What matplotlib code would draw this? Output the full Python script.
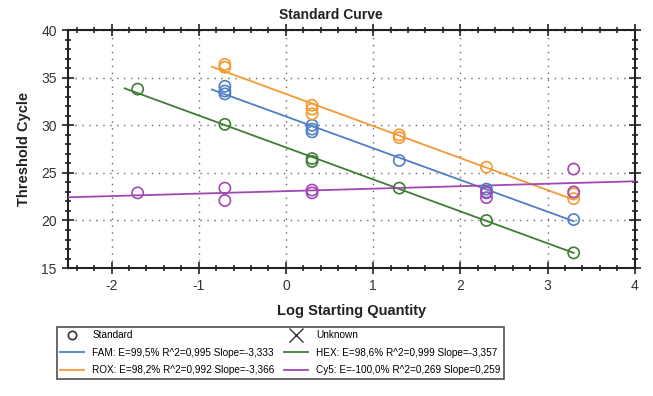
import numpy as np
import matplotlib
matplotlib.use("Agg")
import matplotlib.pyplot as plt
from matplotlib.lines import Line2D
from matplotlib.ticker import MultipleLocator

plt.rcParams['font.family'] = ['Liberation Sans', 'DejaVu Sans']
plt.rcParams['axes.unicode_minus'] = False

# ---- data ----
fam_x = [-0.7, -0.7, -0.7, 0.3, 0.3, 0.3, 1.3, 2.3, 2.3, 3.3]
fam_y = [34.1, 33.6, 33.3, 30.0, 29.6, 29.3, 26.3, 23.3, 23.0, 20.1]
rox_x = [-0.7, -0.7, 0.3, 0.3, 0.3, 1.3, 1.3, 2.3, 3.3, 3.3]
rox_y = [36.4, 36.1, 32.1, 31.7, 31.2, 29.0, 28.7, 25.6, 22.8, 22.3]
hex_x = [-1.7, -0.7, 0.3, 0.3, 1.3, 2.3, 3.3]
hex_y = [33.8, 30.1, 26.5, 26.2, 23.4, 20.0, 16.6]
cy5_x = [-1.7, -0.7, -0.7, 0.3, 0.3, 2.3, 2.3, 3.3, 3.3]
cy5_y = [22.9, 23.4, 22.1, 23.2, 22.9, 22.9, 22.4, 25.4, 23.0]

series_names = ["FAM", "ROX", "HEX", "Cy5"]
slopes = [-3.333, -3.366, -3.357, 0.259]
labels = ["FAM: E=99,5% R^2=0,995 Slope=-3,333",
          "ROX: E=98,2% R^2=0,992 Slope=-3,366",
          "HEX: E=98,6% R^2=0,999 Slope=-3,357",
          "Cy5: E=-100,0% R^2=0,269 Slope=0,259"]
colors = ["#4f7fc4", "#f39a34", "#3f7d35", "#a347b5"]
xs = [fam_x, rox_x, hex_x, cy5_x]
ys = [fam_y, rox_y, hex_y, cy5_y]

xticks = [-2, -1, 0, 1, 2, 3, 4]
yticks = [15, 20, 25, 30, 35, 40]

fig = plt.figure(figsize=(6.53, 3.96), dpi=100)
ax = fig.add_axes([0.104, 0.323, 0.868, 0.601])
ax.set_xlim(-2.5, 4)
ax.set_ylim(15, 40)

line_handles = []
for i in range(4):
    x = np.array(xs[i]); y = np.array(ys[i])
    mx, my = x.mean(), y.mean()
    if series_names[i] == "Cy5":
        lx = np.array([-2.5, 4.0])
        my += 0.2
    else:
        lx = np.array([x.min() - 0.15, x.max()])
    ly = my + slopes[i] * (lx - mx)
    ax.plot(lx, ly, color=colors[i], lw=1.3, zorder=3)
    ax.scatter(x, y, s=65, facecolors='none', edgecolors=colors[i], linewidths=1.2, zorder=4)
    line_handles.append(Line2D([], [], color=colors[i], lw=1.3))

ax.set_xticks(xticks)
ax.set_yticks(yticks)
ax.xaxis.set_minor_locator(MultipleLocator(0.2))
ax.yaxis.set_minor_locator(MultipleLocator(1))
ax.grid(True, which='major', color='#666666', linestyle=(0, (1, 4)), lw=1.0)
ax.tick_params(which='both', direction='inout', top=True, right=True, width=1.2,
               colors='#222222', labelcolor='#333333', labelsize=10)
ax.tick_params(which='major', length=9)
ax.tick_params(which='minor', length=5)
for s in ax.spines.values():
    s.set_linewidth(1.5)
    s.set_color('#222222')

fig.text(0.507, 0.962, "Standard Curve", fontsize=10, fontweight='bold',
         color='#222222', ha='center', va='center')
ax.set_xlabel("Log Starting Quantity", fontsize=10.5, fontweight='bold', color='#222222', labelpad=8)
ax.set_ylabel("Threshold Cycle", fontsize=10.5, fontweight='bold', color='#222222', labelpad=7)

std_h = Line2D([], [], marker='o', ls='none', mfc='none', mec='#333333', ms=6, mew=1.2)
unk_h = Line2D([], [], marker='x', ls='none', color='#333333', ms=10, mew=1.0)
handles = [std_h, line_handles[0], line_handles[1], unk_h, line_handles[2], line_handles[3]]
leg_labels = ["Standard", labels[0], labels[1], "Unknown", labels[2], labels[3]]
leg = fig.legend(handles, leg_labels, ncol=2, loc='upper left',
                 bbox_to_anchor=(0.079, 0.188), fontsize=7.2, frameon=True,
                 fancybox=False, edgecolor='#222222', handlelength=2.4,
                 columnspacing=1.0, borderpad=0.35, labelspacing=0.75, handletextpad=0.8)
leg.get_frame().set_linewidth(1.2)

fig.savefig("out.png", dpi=100)
